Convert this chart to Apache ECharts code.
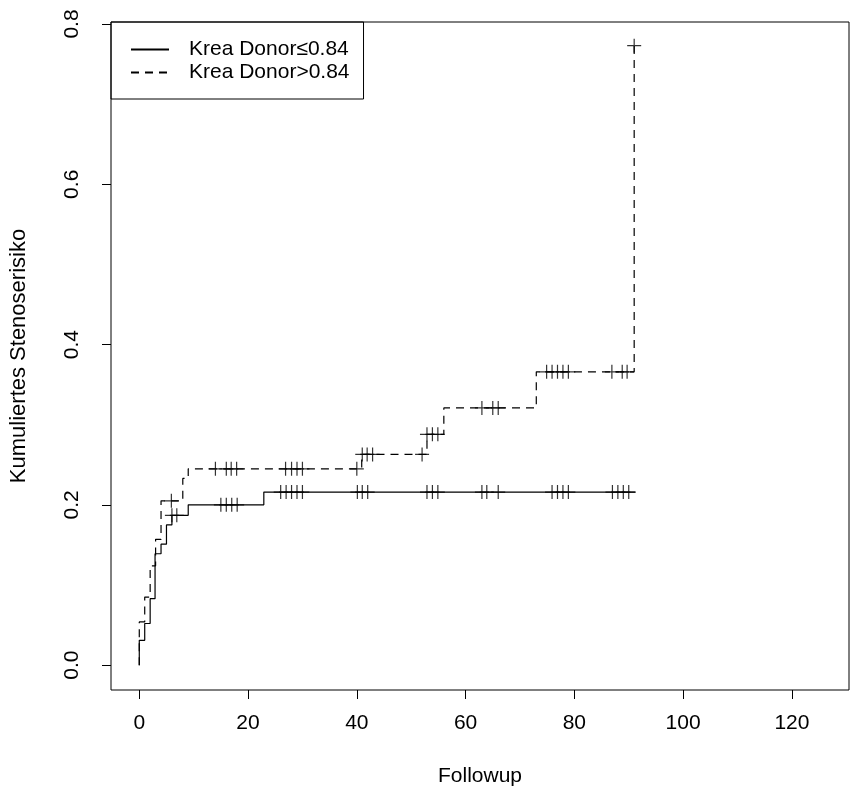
<!DOCTYPE html>
<html>
<head>
<meta charset="utf-8">
<script src="https://cdn.jsdelivr.net/npm/echarts@6/dist/echarts.min.js"></script>
<style>
html,body{margin:0;padding:0;background:#fff;}
#chart{width:851px;height:795px;}
</style>
</head>
<body>
<div id="chart"></div>
<script>
// Series names
var seriesNames = ['Krea Donor\u22640.84', 'Krea Donor>0.84'];

// Step curves: [time, cumulative risk] at each jump (plus start and end)
var lowCurve = [[0,0],[0,0.031],[1.0,0.052],[2.0,0.083],[2.9,0.139],[4.0,0.151],[5.0,0.175],[6.0,0.187],[9.0,0.200],[22.9,0.216],[91.2,0.216]];
var highCurve = [[0,0],[0,0.054],[1.0,0.085],[2.0,0.124],[3.0,0.157],[4.0,0.205],[8.0,0.233],[9.0,0.245],[40.9,0.263],[52.9,0.288],[56.0,0.321],[73.0,0.366],[91.0,0.773]];

// Censoring marks
var lowCensor = [[6.0,0.187],[6.9,0.187],
  [15.0,0.200],[16.0,0.200],[17.0,0.200],[18.0,0.200],
  [26.0,0.216],[27.0,0.216],[28.0,0.216],[29.0,0.216],[30.0,0.216],
  [40.1,0.216],[41.0,0.216],[42.0,0.216],
  [52.9,0.216],[53.9,0.216],[54.9,0.216],
  [63.0,0.216],[63.9,0.216],[66.0,0.216],
  [75.9,0.216],[76.9,0.216],[77.9,0.216],[78.9,0.216],
  [87.0,0.216],[88.0,0.216],[89.0,0.216],[90.0,0.216]];
var highCensor = [[5.9,0.205],
  [14.0,0.245],[16.0,0.245],[16.9,0.245],[17.9,0.245],
  [26.9,0.245],[28.0,0.245],[29.0,0.245],[30.0,0.245],
  [40.0,0.245],
  [41.0,0.263],[41.9,0.263],[42.9,0.263],[52.0,0.263],
  [52.9,0.288],[53.9,0.288],[54.9,0.288],
  [63.0,0.321],[65.0,0.321],[66.0,0.321],
  [74.9,0.366],[75.9,0.366],[76.9,0.366],[77.9,0.366],[78.9,0.366],
  [86.9,0.366],[88.8,0.366],[89.7,0.366],
  [91.0,0.773]];

// Axis ticks
var xTicks = [0,20,40,60,80,100,120];
var yTicks = [0,0.2,0.4,0.6,0.8];
var xTitle = 'Followup';
var yTitle = 'Kumuliertes Stenoserisiko';

var FONT = 'Liberation Sans, Arial, Helvetica, sans-serif';
var plus = 'path://M5,0L5,10M0,5L10,5';

var chart = echarts.init(document.getElementById('chart'), null, {renderer:'canvas'});
chart.setOption({
  animation: false,
  backgroundColor: '#ffffff',
  grid: {left:110, top:22, width:739, height:668, show:true, borderColor:'#000', borderWidth:1, backgroundColor:'transparent'},
  legend: {
    left: 111, top: 22, orient: 'vertical',
    data: seriesNames,
    borderColor: '#000', borderWidth: 1, borderRadius: 0,
    padding: [17, 14, 16, 19],
    itemGap: 2, itemWidth: 38, itemHeight: 14,
    itemStyle: {opacity: 0},
    textStyle: {fontFamily: FONT, fontSize: 21, color:'#000', padding:[0,0,0,15]},
    selectedMode: false
  },
  xAxis: {
    type: 'value', min: -5.2, max: 130.5,
    axisLine: {show:false, onZero:false},
    splitLine: {show:false},
    axisTick: {show:true, inside:false, length:9, lineStyle:{color:'#000', width:1}, customValues: xTicks},
    axisLabel: {show:true, margin:23, color:'#000', fontFamily:FONT, fontSize:21, customValues: xTicks},
    name: xTitle, nameLocation: 'middle', nameGap: 76,
    nameTextStyle: {color:'#000', fontFamily:FONT, fontSize:21}
  },
  yAxis: {
    type: 'value', min: -0.031, max: 0.8025,
    axisLine: {show:false, onZero:false},
    splitLine: {show:false},
    axisTick: {show:true, inside:false, length:9, lineStyle:{color:'#000', width:1}, customValues: yTicks},
    axisLabel: {show:true, margin:28, rotate:90, color:'#000', fontFamily:FONT, fontSize:21, customValues: yTicks,
      formatter: function(v){ return v.toFixed(1); }},
    name: yTitle, nameLocation: 'middle', nameGap: 81,
    nameTextStyle: {color:'#000', fontFamily:FONT, fontSize:22}
  },
  series: [
    {name: seriesNames[0], type:'line', step:'end', data: lowCurve, symbol:'none',
     lineStyle:{color:'#000', width:1.2, type:'solid'}, itemStyle:{color:'#000'}},
    {name: seriesNames[1], type:'line', step:'end', data: highCurve, symbol:'none',
     lineStyle:{color:'#000', width:1.2, type:[8,6]}, itemStyle:{color:'#000'}},
    {type:'scatter', data: lowCensor, symbol: plus, symbolSize: 14,
     itemStyle:{color:'none', borderColor:'#000', borderWidth:1.2}},
    {type:'scatter', data: highCensor, symbol: plus, symbolSize: 14,
     itemStyle:{color:'none', borderColor:'#000', borderWidth:1.2}}
  ]
});
</script>
</body>
</html>
